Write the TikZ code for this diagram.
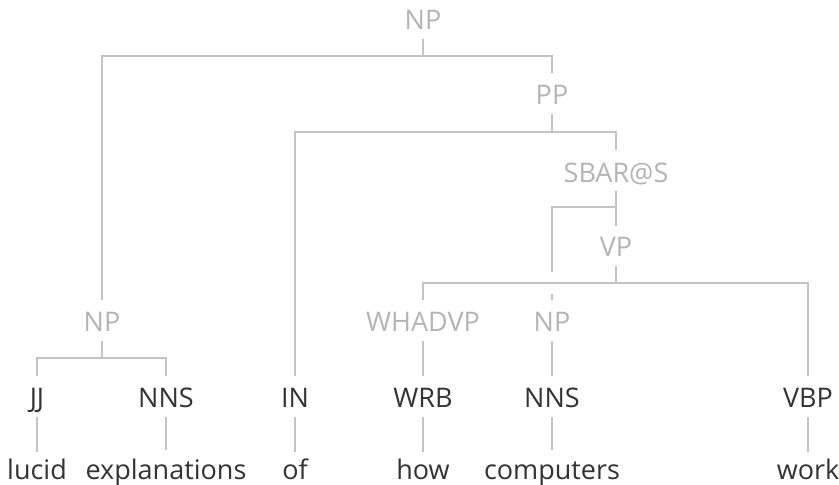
\documentclass[tikz,border=0pt]{standalone}
\usepackage{fontspec}
\setmainfont{Open Sans}
\definecolor{edgegray}{HTML}{C4C4C4}
\definecolor{phrasegray}{HTML}{B4B4B4}
\definecolor{tagdark}{HTML}{333333}
\tikzset{
  lbl/.style={anchor=base, inner sep=0pt, font=\fontsize{27}{31}\selectfont},
  phrase/.style={lbl, text=phrasegray},
  tag/.style={lbl, text=tagdark},
  word/.style={lbl, text=tagdark},
  edge/.style={draw=edgegray, line width=1.3pt}
}
\begin{document}
\begin{tikzpicture}[x=1pt, y=-1pt]
\useasboundingbox (0,0) rectangle (839,485);

% phrase labels
\node[phrase] (np0)  at (423,29)  {NP};
\node[phrase] (pp)   at (552,104) {PP};
\node[phrase] (sbar) at (616,182) {SBAR@S};
\node[phrase] (vp)   at (616,256) {VP};
\node[phrase] (npL)  at (102,331) {NP};
\node[phrase] (wh)   at (423,331) {WHADVP};
\node[phrase] (npM)  at (552,331) {NP};

% part-of-speech tags
\node[tag] (jj)   at (37,407)  {JJ};
\node[tag] (nns1) at (166,407) {NNS};
\node[tag] (in)   at (295,407) {IN};
\node[tag] (wrb)  at (423,407) {WRB};
\node[tag] (nns2) at (552,407) {NNS};
\node[tag] (vbp)  at (808,407) {VBP};

% words
\node[word] (w1) at (37,479)  {lucid};
\node[word] (w2) at (166,479) {explanations};
\node[word] (w3) at (295,479) {of};
\node[word] (w4) at (423,479) {how};
\node[word] (w5) at (552,479) {computers};
\node[word] (w6) at (808,479) {work};

% NP -> NP PP
\draw[edge] ([yshift=-10pt]np0.base) -- ([yshift=-27pt]np0.base);
\draw[edge] ([yshift=31pt]npL.base) |- ([yshift=-27pt]np0.base) -| ([yshift=31pt]pp.base);

% PP -> IN SBAR@S
\draw[edge] ([yshift=-10pt]pp.base) -- ([yshift=-28pt]pp.base);
\draw[edge] ([yshift=31pt]in.base) |- ([yshift=-28pt]pp.base) -| ([yshift=32pt]sbar.base);

% SBAR@S -> NP VP
\draw[edge] ([yshift=-9pt]sbar.base) -- ([yshift=-25pt]sbar.base);
\draw[edge] ([yshift=59pt]npM.base) |- ([yshift=-25pt]sbar.base) -| ([yshift=30pt]vp.base);
\draw[edge] ([yshift=37pt]npM.base) -- ([yshift=31pt]npM.base);

% VP -> WHADVP VBP
\draw[edge] ([yshift=-10pt]vp.base) -- ([yshift=-27pt]vp.base);
\draw[edge] ([yshift=31pt]wh.base) |- ([yshift=-27pt]vp.base) -| ([yshift=31pt]vbp.base);

% NP -> JJ NNS
\draw[edge] ([yshift=-10pt]npL.base) -- ([yshift=-27pt]npL.base);
\draw[edge] ([yshift=31pt]jj.base) |- ([yshift=-27pt]npL.base) -| ([yshift=31pt]nns1.base);

% unary branches
\draw[edge] ([yshift=-10pt]wh.base) -- ([yshift=31pt]wrb.base);
\draw[edge] ([yshift=-10pt]npM.base) -- ([yshift=31pt]nns2.base);

% tags -> words
\draw[edge] ([yshift=-10pt]jj.base)   -- ([yshift=27pt]w1.base);
\draw[edge] ([yshift=-10pt]nns1.base) -- ([yshift=29pt]w2.base);
\draw[edge] ([yshift=-10pt]in.base)   -- ([yshift=27pt]w3.base);
\draw[edge] ([yshift=-10pt]wrb.base)  -- ([yshift=27pt]w4.base);
\draw[edge] ([yshift=-10pt]nns2.base) -- ([yshift=29pt]w5.base);
\draw[edge] ([yshift=-10pt]vbp.base)  -- ([yshift=27pt]w6.base);
\end{tikzpicture}
\end{document}
